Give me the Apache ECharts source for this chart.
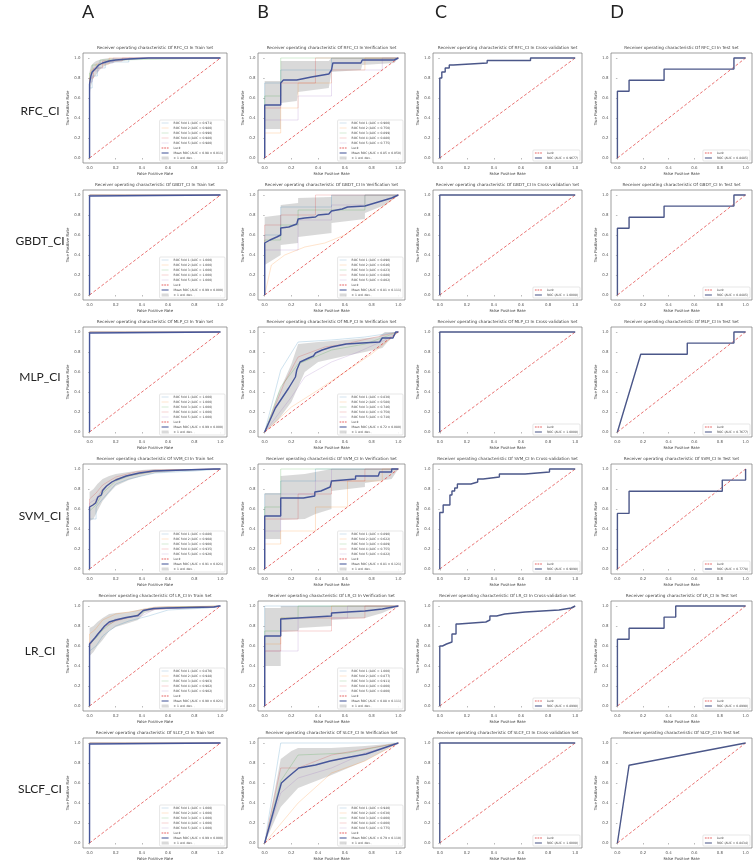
<!DOCTYPE html>
<html><head><meta charset="utf-8">
<script src="https://cdn.jsdelivr.net/npm/echarts@6/dist/echarts.min.js"></script>
<style>html,body{margin:0;padding:0;background:#fff}#chart{width:755px;height:862px}</style>
</head><body><div id="chart"></div>
<script>
// ---------------- DATA ----------------
const rowNames = ['RFC_CI','GBDT_CI','MLP_CI','SVM_CI','LR_CI','SLCF_CI'];
const colLetters = ['A','B','C','D'];
const setNames = ['Train Set','Verification Set','Cross-validation Set','Test Set'];
const tickValues = [0, 0.2, 0.4, 0.6, 0.8, 1.0];
const luckLine = [[0,0],[1,1]];
const perfectFold = [[0,0],[0,1],[1,1]];

// RFC train
const rfcTrainMean = [[0,0],[0,0.74],[0.01,0.82],[0.02,0.86],[0.03,0.88],[0.05,0.9],[0.07,0.93],[0.1,0.95],[0.15,0.97],[0.2,0.98],[0.3,0.99],[0.45,1],[1,1]];
const rfcTrainUpper = [[0,0.86],[0.01,0.92],[0.03,0.95],[0.05,0.97],[0.1,0.99],[0.15,1],[1,1]];
const rfcTrainLower = [[0,0.62],[0.01,0.72],[0.02,0.76],[0.03,0.8],[0.05,0.83],[0.07,0.87],[0.1,0.91],[0.15,0.94],[0.2,0.96],[0.3,0.98],[0.45,1],[1,1]];
const rfcTrainFold1 = [[0,0],[0,0.7],[0.02,0.7],[0.02,0.82],[0.06,0.82],[0.06,0.9],[0.12,0.9],[0.12,0.96],[0.3,0.96],[0.3,1],[1,1]];
const rfcTrainFold2 = [[0,0],[0,0.78],[0.01,0.78],[0.01,0.88],[0.05,0.88],[0.05,0.94],[0.15,0.94],[0.15,1],[1,1]];
const rfcTrainFold3 = [[0,0],[0,0.85],[0.02,0.85],[0.02,0.93],[0.08,0.93],[0.08,0.98],[0.2,0.98],[0.2,1],[1,1]];
const rfcTrainFold4 = [[0,0],[0,0.8],[0.03,0.8],[0.03,0.9],[0.1,0.9],[0.1,0.97],[0.25,0.97],[0.25,1],[1,1]];
const rfcTrainFold5 = [[0,0],[0,0.76],[0.02,0.76],[0.02,0.87],[0.07,0.87],[0.07,0.95],[0.18,0.95],[0.18,1],[1,1]];
const rfcTrainFoldAUC = ['0.971','0.980','0.990','0.980','0.980'];
const rfcTrainMeanAUC = '0.98 ± 0.011';

// RFC verification
const rfcVerMean = [[0,0],[0,0.53],[0.12,0.53],[0.12,0.75],[0.14,0.78],[0.24,0.78],[0.25,0.8],[0.35,0.81],[0.36,0.83],[0.48,0.84],[0.5,0.88],[0.51,0.95],[0.72,0.95],[0.73,0.98],[0.97,0.98],[1,1]];
const rfcVerUpper = [[0,0.77],[0.12,0.77],[0.12,0.97],[0.48,0.97],[0.5,1],[1,1]];
const rfcVerLower = [[0,0.29],[0.12,0.29],[0.12,0.55],[0.24,0.57],[0.25,0.66],[0.48,0.7],[0.5,0.86],[0.72,0.88],[0.73,0.93],[0.97,0.95],[1,1]];
const rfcVerFold1 = [[0,0],[0,0.75],[0.12,0.75],[0.12,0.88],[0.5,0.88],[0.5,1],[1,1]];
const rfcVerFold2 = [[0,0],[0,0.25],[0.12,0.25],[0.12,0.5],[0.25,0.5],[0.25,0.75],[0.5,0.75],[0.5,0.88],[0.75,0.88],[0.75,1],[1,1]];
const rfcVerFold3 = [[0,0],[0,0.62],[0.12,0.62],[0.12,1],[1,1]];
const rfcVerFold4 = [[0,0],[0,0.5],[0.12,0.5],[0.12,0.75],[0.38,0.75],[0.38,1],[1,1]];
const rfcVerFold5 = [[0,0],[0,0.38],[0.25,0.38],[0.25,0.62],[0.5,0.62],[0.5,0.88],[0.88,0.88],[0.88,1],[1,1]];
const rfcVerFoldAUC = ['0.900','0.750','0.899','0.880','0.775'];
const rfcVerMeanAUC = '0.85 ± 0.050';

// GBDT train
const gbdtTrainMean = [[0,0],[0,0.99],[0.01,1],[1,1]];
const gbdtTrainUpper = [[0,1],[1,1]];
const gbdtTrainLower = [[0,0.98],[0.01,1],[1,1]];
const gbdtTrainFoldAUC = ['1.000','1.000','1.000','1.000','1.000'];
const gbdtTrainMeanAUC = '0.99 ± 0.000';

// GBDT verification
const gbdtVerMean = [[0,0],[0,0.52],[0.04,0.55],[0.09,0.58],[0.12,0.6],[0.12,0.67],[0.18,0.68],[0.19,0.7],[0.24,0.71],[0.25,0.76],[0.3,0.77],[0.38,0.78],[0.4,0.8],[0.48,0.81],[0.5,0.84],[0.58,0.86],[0.62,0.88],[0.75,0.89],[0.85,0.93],[0.95,0.97],[1,1]];
const gbdtVerUpper = [[0,0.78],[0.12,0.8],[0.12,0.9],[0.25,0.92],[0.25,0.97],[0.5,0.98],[0.5,1],[1,1]];
const gbdtVerLower = [[0,0.3],[0.12,0.4],[0.12,0.5],[0.25,0.52],[0.25,0.58],[0.5,0.62],[0.5,0.72],[0.75,0.76],[0.75,0.82],[0.9,0.9],[1,1]];
const gbdtVerFold1 = [[0,0],[0,0.6],[0.12,0.6],[0.12,0.88],[0.5,0.88],[0.5,1],[1,1]];
const gbdtVerFold2 = [[0,0],[0.05,0.3],[0.15,0.4],[0.3,0.48],[0.45,0.52],[0.6,0.6],[0.75,0.75],[0.9,0.9],[1,1]];
const gbdtVerFold3 = [[0,0],[0,0.55],[0.12,0.55],[0.12,0.7],[0.25,0.7],[0.25,0.85],[0.75,0.85],[0.75,1],[1,1]];
const gbdtVerFold4 = [[0,0],[0,0.7],[0.12,0.7],[0.12,0.8],[0.38,0.8],[0.38,1],[1,1]];
const gbdtVerFold5 = [[0,0],[0,0.45],[0.25,0.45],[0.25,0.75],[0.5,0.75],[0.5,0.9],[0.75,0.9],[0.75,1],[1,1]];
const gbdtVerFoldAUC = ['0.890','0.646','0.823','0.880','0.802'];
const gbdtVerMeanAUC = '0.81 ± 0.111';

// MLP train
const mlpTrainMean = [[0,0],[0,0.99],[0.01,1],[1,1]];
const mlpTrainUpper = [[0,1],[1,1]];
const mlpTrainLower = [[0,0.98],[0.01,1],[1,1]];
const mlpTrainFoldAUC = ['1.000','1.000','1.000','1.000','1.000'];
const mlpTrainMeanAUC = '0.99 ± 0.000';

// MLP verification
const mlpVerMean = [[0,0],[0.08,0.24],[0.13,0.34],[0.18,0.44],[0.23,0.55],[0.24,0.62],[0.265,0.7],[0.33,0.74],[0.365,0.76],[0.38,0.79],[0.43,0.82],[0.5,0.85],[0.61,0.88],[0.73,0.89],[0.86,0.9],[0.88,0.94],[0.96,0.94],[0.98,1],[1,1]];
const mlpVerUpper = [[0,0],[0.1,0.38],[0.2,0.68],[0.25,0.88],[0.4,0.9],[0.6,0.92],[0.85,0.95],[0.9,1],[1,1]];
const mlpVerLower = [[0,0],[0.1,0.12],[0.2,0.3],[0.25,0.45],[0.3,0.6],[0.4,0.7],[0.6,0.76],[0.75,0.8],[0.88,0.84],[0.92,0.9],[1,1]];
const mlpVerFold1 = [[0,0],[0.12,0.62],[0.25,0.9],[0.5,0.92],[0.75,0.95],[1,1]];
const mlpVerFold2 = [[0,0],[0.2,0.25],[0.4,0.42],[0.6,0.6],[0.8,0.78],[1,1]];
const mlpVerFold3 = [[0,0],[0.12,0.45],[0.25,0.68],[0.5,0.82],[0.75,0.88],[1,1]];
const mlpVerFold4 = [[0,0],[0.15,0.5],[0.25,0.75],[0.45,0.85],[0.6,0.88],[1,1]];
const mlpVerFold5 = [[0,0],[0.2,0.35],[0.3,0.55],[0.5,0.7],[0.7,0.8],[0.9,0.92],[1,1]];
const mlpVerFoldAUC = ['0.830','0.580','0.746','0.750','0.710'];
const mlpVerMeanAUC = '0.72 ± 0.080';

// SVM train
const svmTrainMean = [[0,0],[0,0.62],[0.01,0.63],[0.026,0.64],[0.046,0.66],[0.064,0.72],[0.09,0.74],[0.1,0.785],[0.13,0.83],[0.17,0.87],[0.2,0.89],[0.28,0.93],[0.38,0.96],[0.49,0.98],[0.72,0.99],[0.95,1],[1,1]];
const svmTrainUpper = [[0,0.77],[0.03,0.8],[0.06,0.85],[0.1,0.9],[0.15,0.93],[0.2,0.95],[0.3,0.97],[0.4,0.99],[0.5,1],[1,1]];
const svmTrainLower = [[0,0.48],[0.03,0.5],[0.06,0.58],[0.1,0.68],[0.15,0.76],[0.2,0.83],[0.3,0.89],[0.4,0.93],[0.5,0.96],[0.7,0.98],[0.95,1],[1,1]];
const svmTrainFold1 = [[0,0],[0,0.5],[0.05,0.5],[0.05,0.62],[0.1,0.7],[0.2,0.85],[0.3,0.9],[0.5,0.96],[0.8,0.98],[1,1]];
const svmTrainFold2 = [[0,0],[0,0.62],[0.04,0.66],[0.1,0.8],[0.2,0.9],[0.35,0.95],[0.6,0.99],[1,1]];
const svmTrainFold3 = [[0,0],[0,0.58],[0.05,0.64],[0.1,0.76],[0.2,0.88],[0.3,0.93],[0.5,0.98],[1,1]];
const svmTrainFold4 = [[0,0],[0,0.7],[0.05,0.76],[0.1,0.84],[0.2,0.92],[0.35,0.97],[0.5,0.99],[1,1]];
const svmTrainFold5 = [[0,0],[0,0.66],[0.05,0.7],[0.1,0.8],[0.2,0.89],[0.3,0.94],[0.5,0.98],[1,1]];
const svmTrainFoldAUC = ['0.880','0.908','0.900','0.935','0.920'];
const svmTrainMeanAUC = '0.91 ± 0.021';

// SVM verification
const svmVerMean = [[0,0],[0,0.53],[0.12,0.53],[0.12,0.71],[0.29,0.71],[0.29,0.73],[0.375,0.73],[0.375,0.77],[0.42,0.78],[0.49,0.82],[0.5,0.88],[0.51,0.9],[0.68,0.9],[0.68,0.93],[0.85,0.93],[0.86,0.97],[0.95,0.97],[0.95,1],[1,1]];
const svmVerUpper = [[0,0.76],[0.12,0.76],[0.12,0.93],[0.3,0.95],[0.5,1],[1,1]];
const svmVerLower = [[0,0.3],[0.12,0.3],[0.12,0.49],[0.3,0.5],[0.38,0.55],[0.5,0.6],[0.5,0.78],[0.75,0.82],[0.75,0.86],[0.95,0.9],[1,1]];
const svmVerFold1 = [[0,0],[0,0.75],[0.12,0.75],[0.12,0.88],[0.38,0.88],[0.38,1],[1,1]];
const svmVerFold2 = [[0,0],[0,0.25],[0.12,0.25],[0.12,0.38],[0.38,0.38],[0.38,0.62],[0.62,0.62],[0.62,0.88],[0.88,0.88],[0.88,1],[1,1]];
const svmVerFold3 = [[0,0],[0,0.62],[0.12,0.62],[0.12,1],[1,1]];
const svmVerFold4 = [[0,0],[0,0.5],[0.25,0.5],[0.25,0.75],[0.5,0.75],[0.5,0.88],[0.75,0.88],[0.75,1],[1,1]];
const svmVerFold5 = [[0,0],[0,0.38],[0.12,0.38],[0.12,0.75],[0.38,0.75],[0.38,0.88],[0.5,0.88],[0.5,1],[1,1]];
const svmVerFoldAUC = ['0.890','0.622','0.889','0.755','0.822'];
const svmVerMeanAUC = '0.81 ± 0.121';

// LR train
const lrTrainMean = [[0,0],[0,0.62],[0.013,0.64],[0.04,0.68],[0.064,0.72],[0.09,0.76],[0.115,0.8],[0.15,0.84],[0.2,0.86],[0.28,0.885],[0.37,0.905],[0.41,0.955],[0.49,0.975],[0.59,0.98],[0.95,0.99],[0.99,1],[1,1]];
const lrTrainUpper = [[0,0.78],[0.03,0.8],[0.06,0.84],[0.1,0.88],[0.15,0.92],[0.2,0.93],[0.3,0.94],[0.4,0.97],[0.5,0.99],[0.6,1],[1,1]];
const lrTrainLower = [[0,0.5],[0.03,0.54],[0.06,0.6],[0.1,0.66],[0.15,0.75],[0.2,0.79],[0.3,0.83],[0.37,0.86],[0.42,0.93],[0.5,0.96],[0.6,0.97],[0.95,0.98],[1,1]];
const lrTrainFold1 = [[0,0],[0,0.55],[0.05,0.6],[0.1,0.7],[0.2,0.8],[0.3,0.85],[0.45,0.9],[0.6,0.96],[0.9,0.98],[1,1]];
const lrTrainFold2 = [[0,0],[0,0.72],[0.04,0.76],[0.1,0.86],[0.2,0.92],[0.35,0.95],[0.5,0.99],[1,1]];
const lrTrainFold3 = [[0,0],[0,0.62],[0.05,0.68],[0.1,0.76],[0.2,0.86],[0.35,0.9],[0.45,0.97],[0.7,0.99],[1,1]];
const lrTrainFold4 = [[0,0],[0,0.6],[0.05,0.7],[0.12,0.8],[0.2,0.85],[0.35,0.9],[0.42,0.96],[0.8,0.99],[1,1]];
const lrTrainFold5 = [[0,0],[0,0.64],[0.05,0.69],[0.1,0.78],[0.2,0.87],[0.4,0.9],[0.5,0.97],[0.9,0.99],[1,1]];
const lrTrainFoldAUC = ['0.870','0.948','0.903','0.902','0.902'];
const lrTrainMeanAUC = '0.90 ± 0.021';

// LR verification
const lrVerMean = [[0,0],[0,0.7],[0.12,0.7],[0.12,0.87],[0.25,0.88],[0.26,0.9],[0.5,0.9],[0.5,0.93],[0.62,0.94],[0.75,0.95],[0.88,0.97],[1,1]];
const lrVerUpper = [[0,0.98],[0.12,0.98],[0.12,1],[1,1]];
const lrVerLower = [[0,0.4],[0.12,0.4],[0.12,0.74],[0.25,0.75],[0.26,0.78],[0.5,0.8],[0.5,0.86],[0.75,0.88],[0.88,0.93],[1,1]];
const lrVerFold1 = [[0,0],[0,1],[1,1]];
const lrVerFold2 = [[0,0],[0,0.62],[0.12,0.62],[0.12,0.88],[0.5,0.88],[0.5,1],[1,1]];
const lrVerFold3 = [[0,0],[0,0.75],[0.12,0.75],[0.12,0.88],[0.25,0.88],[0.25,1],[1,1]];
const lrVerFold4 = [[0,0],[0,0.55],[0.12,0.55],[0.12,0.75],[0.5,0.75],[0.5,0.88],[0.75,0.88],[0.75,1],[1,1]];
const lrVerFold5 = [[0,0],[0,0.55],[0.25,0.55],[0.25,0.88],[0.62,0.88],[0.62,1],[1,1]];
const lrVerFoldAUC = ['1.000','0.877','0.911','0.800','0.800'];
const lrVerMeanAUC = '0.88 ± 0.111';

// SLCF train
const slcfTrainMean = [[0,0],[0,0.99],[0.01,1],[1,1]];
const slcfTrainUpper = [[0,1],[1,1]];
const slcfTrainLower = [[0,0.98],[0.01,1],[1,1]];
const slcfTrainFoldAUC = ['1.000','1.000','1.000','1.000','1.000'];
const slcfTrainMeanAUC = '0.99 ± 0.000';

// SLCF verification
const slcfVerMean = [[0,0],[0.125,0.6],[0.175,0.66],[0.255,0.75],[0.38,0.78],[0.49,0.82],[0.6,0.85],[0.76,0.89],[1,1]];
const slcfVerUpper = [[0,0],[0.12,0.84],[0.2,0.92],[0.25,0.95],[0.5,0.95],[0.75,0.97],[1,1]];
const slcfVerLower = [[0,0],[0.12,0.36],[0.25,0.55],[0.5,0.68],[0.75,0.82],[1,1]];
const slcfVerFold1 = [[0,0],[0.12,1],[1,1]];
const slcfVerFold2 = [[0,0],[0.25,0.4],[0.5,0.7],[0.75,0.82],[1,1]];
const slcfVerFold3 = [[0,0],[0.12,0.62],[0.25,0.88],[0.62,0.9],[1,1]];
const slcfVerFold4 = [[0,0],[0.12,0.75],[0.25,0.75],[0.5,0.88],[1,1]];
const slcfVerFold5 = [[0,0],[0.12,0.5],[0.25,0.65],[0.5,0.75],[0.75,0.9],[1,1]];
const slcfVerFoldAUC = ['0.940','0.630','0.800','0.800','0.775'];
const slcfVerMeanAUC = '0.79 ± 0.110';

// Cross-validation set ROC curves
const rfcCvRoc = [[0,0],[0,0.8],[0.015,0.8],[0.015,0.86],[0.04,0.86],[0.04,0.9],[0.07,0.9],[0.07,0.93],[0.1,0.93],[0.1,0.95],[0.35,0.95],[0.35,0.975],[0.67,0.975],[0.67,1],[1,1]];
const gbdtCvRoc = [[0,0],[0,1],[1,1]];
const mlpCvRoc = [[0,0],[0,1],[1,1]];
const svmCvRoc = [[0,0],[0,0.565],[0.025,0.565],[0.025,0.64],[0.075,0.64],[0.075,0.74],[0.09,0.74],[0.09,0.78],[0.11,0.78],[0.11,0.81],[0.13,0.81],[0.13,0.85],[0.23,0.85],[0.23,0.87],[0.28,0.87],[0.28,0.9],[0.32,0.9],[0.32,0.92],[0.44,0.92],[0.44,0.95],[0.63,0.95],[0.63,0.97],[0.81,0.97],[0.81,1],[1,1]];
const lrCvRoc = [[0,0],[0,0.6],[0.02,0.6],[0.02,0.62],[0.05,0.62],[0.05,0.64],[0.09,0.64],[0.09,0.72],[0.12,0.72],[0.12,0.82],[0.14,0.82],[0.14,0.84],[0.34,0.84],[0.34,0.86],[0.37,0.86],[0.37,0.9],[0.42,0.9],[0.42,0.92],[0.48,0.92],[0.48,0.94],[0.63,0.94],[0.63,0.96],[0.88,0.96],[0.88,0.98],[0.97,0.98],[0.97,1],[1,1]];
const slcfCvRoc = [[0,0],[0,1],[1,1]];
const cvAUC = ['0.9677','1.0000','1.0000','0.9090','0.8990','1.0000'];

// Test set ROC curves
const rfcTestRoc = [[0,0],[0,0.667],[0.091,0.667],[0.091,0.778],[0.364,0.778],[0.364,0.889],[0.909,0.889],[0.909,1],[1,1]];
const gbdtTestRoc = [[0,0],[0,0.667],[0.091,0.667],[0.091,0.778],[0.364,0.778],[0.364,0.889],[0.909,0.889],[0.909,1],[1,1]];
const mlpTestRoc = [[0,0],[0.182,0.778],[0.545,0.778],[0.545,0.889],[0.909,0.889],[0.909,1],[1,1]];
const svmTestRoc = [[0,0],[0,0.556],[0.091,0.556],[0.091,0.778],[0.818,0.778],[0.818,0.889],[1,0.889],[1,1]];
const lrTestRoc = [[0,0],[0,0.667],[0.091,0.667],[0.091,0.778],[0.364,0.778],[0.364,0.889],[0.455,0.889],[0.455,1],[1,1]];
const slcfTestRoc = [[0,0],[0.091,0.778],[1,1]];
const testAUC = ['0.8485','0.8485','0.7677','0.7778','0.8990','0.8434'];

// ---------------- LAYOUT / STYLE ----------------
const W = 755, H = 862;
const FONT = 'DejaVu Sans';
const colLeft = [83, 258, 433, 611];
const colWidth = [144, 147, 149, 141];
const rowTop = [53, 190, 327, 464, 601, 738];
const boxH = 110;
const rowLabelY = [112, 242, 378, 517, 652, 790];
const colLetterX = [88, 263, 441, 617];
const FOLD_COLORS = ['#1f77b4','#ff7f0e','#2ca02c','#d62728','#9467bd'];
const MEAN_COLOR = '#46569a';
const ROC_COLOR = '#4b5789';
const LUCK_COLOR = 'rgba(226,70,70,0.85)';
const BAND_COLOR = 'rgba(140,140,140,0.33)';
const ICON_LINE = 'path://M0,0H20V1.6H0Z';
const ICON_THICK = 'path://M0,0H20V3H0Z';
const ICON_DASH = 'path://M0,0H5V2.4H0Z M7.5,0H12.5V2.4H7.5Z M15,0H20V2.4H15Z';

const cvPanels = [
  {row:0,col:0,folds:[rfcTrainFold1,rfcTrainFold2,rfcTrainFold3,rfcTrainFold4,rfcTrainFold5],foldAUC:rfcTrainFoldAUC,mean:rfcTrainMean,meanAUC:rfcTrainMeanAUC,upper:rfcTrainUpper,lower:rfcTrainLower},
  {row:0,col:1,folds:[rfcVerFold1,rfcVerFold2,rfcVerFold3,rfcVerFold4,rfcVerFold5],foldAUC:rfcVerFoldAUC,mean:rfcVerMean,meanAUC:rfcVerMeanAUC,upper:rfcVerUpper,lower:rfcVerLower},
  {row:1,col:0,folds:[perfectFold,perfectFold,perfectFold,perfectFold,perfectFold],foldAUC:gbdtTrainFoldAUC,mean:gbdtTrainMean,meanAUC:gbdtTrainMeanAUC,upper:gbdtTrainUpper,lower:gbdtTrainLower},
  {row:1,col:1,folds:[gbdtVerFold1,gbdtVerFold2,gbdtVerFold3,gbdtVerFold4,gbdtVerFold5],foldAUC:gbdtVerFoldAUC,mean:gbdtVerMean,meanAUC:gbdtVerMeanAUC,upper:gbdtVerUpper,lower:gbdtVerLower},
  {row:2,col:0,folds:[perfectFold,perfectFold,perfectFold,perfectFold,perfectFold],foldAUC:mlpTrainFoldAUC,mean:mlpTrainMean,meanAUC:mlpTrainMeanAUC,upper:mlpTrainUpper,lower:mlpTrainLower},
  {row:2,col:1,folds:[mlpVerFold1,mlpVerFold2,mlpVerFold3,mlpVerFold4,mlpVerFold5],foldAUC:mlpVerFoldAUC,mean:mlpVerMean,meanAUC:mlpVerMeanAUC,upper:mlpVerUpper,lower:mlpVerLower},
  {row:3,col:0,folds:[svmTrainFold1,svmTrainFold2,svmTrainFold3,svmTrainFold4,svmTrainFold5],foldAUC:svmTrainFoldAUC,mean:svmTrainMean,meanAUC:svmTrainMeanAUC,upper:svmTrainUpper,lower:svmTrainLower},
  {row:3,col:1,folds:[svmVerFold1,svmVerFold2,svmVerFold3,svmVerFold4,svmVerFold5],foldAUC:svmVerFoldAUC,mean:svmVerMean,meanAUC:svmVerMeanAUC,upper:svmVerUpper,lower:svmVerLower},
  {row:4,col:0,folds:[lrTrainFold1,lrTrainFold2,lrTrainFold3,lrTrainFold4,lrTrainFold5],foldAUC:lrTrainFoldAUC,mean:lrTrainMean,meanAUC:lrTrainMeanAUC,upper:lrTrainUpper,lower:lrTrainLower},
  {row:4,col:1,folds:[lrVerFold1,lrVerFold2,lrVerFold3,lrVerFold4,lrVerFold5],foldAUC:lrVerFoldAUC,mean:lrVerMean,meanAUC:lrVerMeanAUC,upper:lrVerUpper,lower:lrVerLower},
  {row:5,col:0,folds:[perfectFold,perfectFold,perfectFold,perfectFold,perfectFold],foldAUC:slcfTrainFoldAUC,mean:slcfTrainMean,meanAUC:slcfTrainMeanAUC,upper:slcfTrainUpper,lower:slcfTrainLower},
  {row:5,col:1,folds:[slcfVerFold1,slcfVerFold2,slcfVerFold3,slcfVerFold4,slcfVerFold5],foldAUC:slcfVerFoldAUC,mean:slcfVerMean,meanAUC:slcfVerMeanAUC,upper:slcfVerUpper,lower:slcfVerLower}
];
const cvRocs = [rfcCvRoc, gbdtCvRoc, mlpCvRoc, svmCvRoc, lrCvRoc, slcfCvRoc];
const testRocs = [rfcTestRoc, gbdtTestRoc, mlpTestRoc, svmTestRoc, lrTestRoc, slcfTestRoc];

const grid = [], xAxis = [], yAxis = [], series = [], legend = [], title = [];
const smallText = {fontSize: 4.2, color: '#444', fontFamily: FONT, fontWeight: 'normal'};

function axis(idx, isX) {
  return {
    type: 'value', gridIndex: idx, min: -0.05, max: 1.05,
    name: isX ? 'False Positive Rate' : 'True Positive Rate',
    nameLocation: 'middle', nameGap: isX ? 8.5 : 11.5,
    nameTextStyle: {fontSize: 3.9, color: '#444', fontFamily: FONT},
    axisLine: {show: false}, splitLine: {show: false},
    axisTick: {show: true, length: 1.5, customValues: tickValues, lineStyle: {color: '#777', width: 0.5}},
    axisLabel: {show: true, customValues: tickValues, fontSize: 3.9, color: '#555', margin: 2.5, fontFamily: FONT,
      formatter: v => Number(v).toFixed(1)}
  };
}

function addPanel(row, col) {
  const idx = grid.length;
  grid.push({left: colLeft[col], top: rowTop[row], width: colWidth[col], height: boxH,
    show: true, borderColor: '#777', borderWidth: 0.7, backgroundColor: 'transparent', containLabel: false});
  xAxis.push(axis(idx, true));
  yAxis.push(axis(idx, false));
  title.push({text: 'Receiver operating characteristic Of ' + rowNames[row] + ' In ' + setNames[col],
    left: colLeft[col] + colWidth[col] / 2, top: rowTop[row] - 7.5, textAlign: 'center', padding: 0,
    textStyle: smallText});
  return idx;
}

function legendBox(row, col, data) {
  return {orient: 'vertical', align: 'left', selectedMode: false, symbolKeepAspect: true,
    right: W - (colLeft[col] + colWidth[col]) + 2, bottom: H - (rowTop[row] + boxH) + 2,
    data: data, itemWidth: 7, itemHeight: 3, itemGap: 2, padding: [1.5, 2, 1.5, 2],
    borderColor: '#ccc', borderWidth: 0.5, borderRadius: 1, backgroundColor: 'rgba(255,255,255,0.85)',
    textStyle: {fontSize: 3, color: '#444', fontFamily: FONT}};
}

function bandRenderer(upper, lower) {
  return function (params, api) {
    const pts = upper.map(p => api.coord(p)).concat(lower.slice().reverse().map(p => api.coord(p)));
    return {type: 'polygon', shape: {points: pts}, style: {fill: BAND_COLOR}, silent: true};
  };
}

const luckItem = {name: 'Luck', icon: ICON_DASH};

cvPanels.forEach(p => {
  const idx = addPanel(p.row, p.col);
  const items = [];
  series.push({type: 'custom', name: '± 1 std. dev.', coordinateSystem: 'cartesian2d',
    xAxisIndex: idx, yAxisIndex: idx, data: [[0, 0]], itemStyle: {color: BAND_COLOR}, z: 1, silent: true,
    renderItem: bandRenderer(p.upper, p.lower)});
  p.folds.forEach((f, i) => {
    const nm = 'ROC fold ' + (i + 1) + ' (AUC = ' + p.foldAUC[i] + ')';
    items.push({name: nm, icon: ICON_LINE, itemStyle: {opacity: 0.35}});
    series.push({type: 'line', name: nm, data: f, xAxisIndex: idx, yAxisIndex: idx, symbol: 'none',
      lineStyle: {color: FOLD_COLORS[i], width: 0.7, opacity: 0.3}, itemStyle: {color: FOLD_COLORS[i]},
      z: 2, silent: true, animation: false});
  });
  series.push({type: 'line', name: 'Luck', data: luckLine, xAxisIndex: idx, yAxisIndex: idx, symbol: 'none',
    lineStyle: {color: LUCK_COLOR, width: 0.9, type: [3, 2]}, itemStyle: {color: LUCK_COLOR}, z: 3, silent: true, animation: false});
  const meanName = 'Mean ROC (AUC = ' + p.meanAUC + ')';
  series.push({type: 'line', name: meanName, data: p.mean, xAxisIndex: idx, yAxisIndex: idx, symbol: 'none',
    lineStyle: {color: MEAN_COLOR, width: 1.4}, itemStyle: {color: MEAN_COLOR}, z: 4, silent: true, animation: false});
  legend.push(legendBox(p.row, p.col, items.concat([luckItem, {name: meanName, icon: ICON_THICK},
    {name: '± 1 std. dev.', icon: 'rect'}])));
});

[cvRocs, testRocs].forEach((rocs, k) => {
  const col = k + 2;
  const aucs = k === 0 ? cvAUC : testAUC;
  rocs.forEach((roc, row) => {
    const idx = addPanel(row, col);
    series.push({type: 'line', name: 'Luck', data: luckLine, xAxisIndex: idx, yAxisIndex: idx, symbol: 'none',
      lineStyle: {color: LUCK_COLOR, width: 0.9, type: [3, 2]}, itemStyle: {color: LUCK_COLOR}, z: 3, silent: true, animation: false});
    const nm = 'ROC (AUC = ' + aucs[row] + ')';
    series.push({type: 'line', name: nm, data: roc, xAxisIndex: idx, yAxisIndex: idx, symbol: 'none',
      lineStyle: {color: ROC_COLOR, width: 1.4}, itemStyle: {color: ROC_COLOR}, z: 4, silent: true, animation: false});
    legend.push(legendBox(row, col, [luckItem, {name: nm, icon: ICON_THICK}]));
  });
});

colLetters.forEach((c, i) => title.push({text: c, left: colLetterX[i], top: 3, textAlign: 'center', padding: 0,
  textStyle: {fontSize: 18, color: '#222', fontFamily: 'Lato', fontWeight: 'normal'}}));
rowNames.forEach((r, i) => title.push({text: r, left: 40, top: rowLabelY[i] - 7, textAlign: 'center', padding: 0,
  textStyle: {fontSize: 12, color: '#222', fontFamily: 'Lato', fontWeight: 'normal'}}));

const chart = echarts.init(document.getElementById('chart'), null, {renderer: 'canvas'});
chart.setOption({backgroundColor: '#fff', animation: false, title, grid, xAxis, yAxis, legend, series});
</script></body></html>
